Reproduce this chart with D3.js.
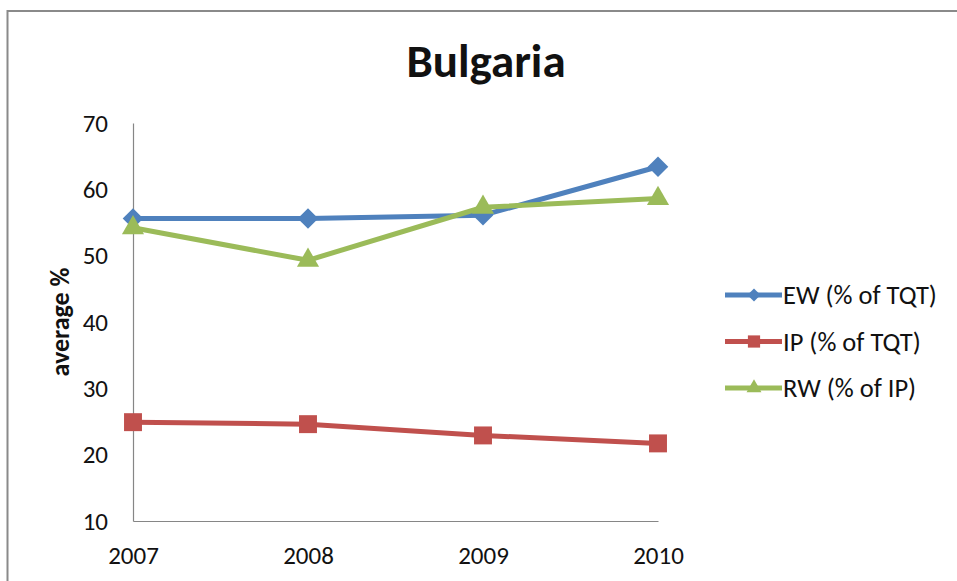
<!DOCTYPE html>
<html>
<head>
<meta charset="utf-8">
<title>Bulgaria</title>
<script src="https://d3js.org/d3.v7.min.js"></script>
<style type="text/css">
body { margin: 0; background: #fff; }
text { font-family: Carlito, Lato, "Open Sans", sans-serif; fill: #111; }
</style>
</head>
<body>
<div id="chart"></div>
<script>
// data
var years = ["2007", "2008", "2009", "2010"];
var ew = [55.6, 55.6, 56.1, 63.4];
var ip = [24.9, 24.6, 22.9, 21.7];
var rw = [54.2, 49.3, 57.3, 58.6];
var yTicks = [10, 20, 30, 40, 50, 60, 70];
var seriesNames = ["EW (% of TQT)", "IP (% of TQT)", "RW (% of IP)"];

var series = [
  {name: seriesNames[0], values: ew, color: "#4F81BD", marker: d3.symbolDiamond2, size: 270, lsize: 110},
  {name: seriesNames[1], values: ip, color: "#C0504D", marker: d3.symbolSquare2, size: 410, lsize: 190},
  {name: seriesNames[2], values: rw, color: "#9BBB59", marker: d3.symbolTriangle2, size: 350, lsize: 160}
];

var width = 957, height = 581;

var svg = d3.select("#chart")
  .append("svg")
    .attr("width", width)
    .attr("height", height);

// outer frame (runs off the bottom and right edges)
svg.append("rect")
  .attr("x", 7.5).attr("y", 11)
  .attr("width", 1000).attr("height", 700)
  .attr("fill", "#fff")
  .attr("stroke", "#8a8a8a")
  .attr("stroke-width", 2);

var x = d3.scalePoint()
  .domain(years)
  .range([133, 658]);

var y = d3.scaleLinear()
  .domain([10, 70])
  .range([521, 123]);

// axes
var xAxis = svg.append("g")
  .attr("transform", "translate(0,521)")
  .call(d3.axisBottom(x).tickSize(0).tickPadding(25));

var yAxis = svg.append("g")
  .attr("transform", "translate(133,0)")
  .call(d3.axisLeft(y).tickValues(yTicks).tickSize(0).tickPadding(25));

xAxis.select(".domain").attr("stroke", "#868686").attr("stroke-width", 1.2);
yAxis.select(".domain").attr("stroke", "#868686").attr("stroke-width", 1.2);
xAxis.selectAll("text").style("font-size", "25px").attr("fill", "#111")
  .style("font-family", "Carlito, Lato, sans-serif");
yAxis.selectAll("text").style("font-size", "25px").attr("fill", "#111")
  .style("font-family", "Carlito, Lato, sans-serif");

// lines
var line = d3.line()
  .x(function(d, i) { return x(years[i]); })
  .y(function(d) { return y(d); });

series.forEach(function(s) {
  svg.append("path")
    .datum(s.values)
    .attr("d", line)
    .attr("fill", "none")
    .attr("stroke", s.color)
    .attr("stroke-width", 5)
    .attr("stroke-linejoin", "round");
});

series.forEach(function(s) {
  svg.append("g")
    .selectAll("path")
    .data(s.values)
    .enter()
    .append("path")
      .attr("d", d3.symbol().type(s.marker).size(s.size))
      .attr("transform", function(d, i) { return "translate(" + x(years[i]) + "," + y(d) + ")"; })
      .attr("fill", s.color);
});

// title
svg.append("text")
  .attr("x", 486)
  .attr("y", 77)
  .attr("text-anchor", "middle")
  .style("font-size", "47px")
  .style("font-weight", "bold")
  .text("Bulgaria");

// y axis title
svg.append("text")
  .attr("text-anchor", "middle")
  .attr("transform", "translate(69,322)rotate(-90)")
  .style("font-size", "26px")
  .style("font-weight", "bold")
  .text("average %");

// legend
var legend = svg.append("g")
  .selectAll("g")
  .data(series)
  .enter()
  .append("g")
    .attr("transform", function(d, i) { return "translate(725," + (295 + i * 46.5) + ")"; });

legend.append("line")
  .attr("x1", 0).attr("x2", 57)
  .attr("stroke", function(d) { return d.color; })
  .attr("stroke-width", 5);

legend.append("path")
  .attr("d", function(d) { return d3.symbol().type(d.marker).size(d.lsize)(); })
  .attr("transform", "translate(29,0)")
  .attr("fill", function(d) { return d.color; });

legend.append("text")
  .attr("x", 58)
  .attr("dy", "0.35em")
  .style("font-size", "26.5px")
  .text(function(d) { return d.name; });
</script>
</body>
</html>
